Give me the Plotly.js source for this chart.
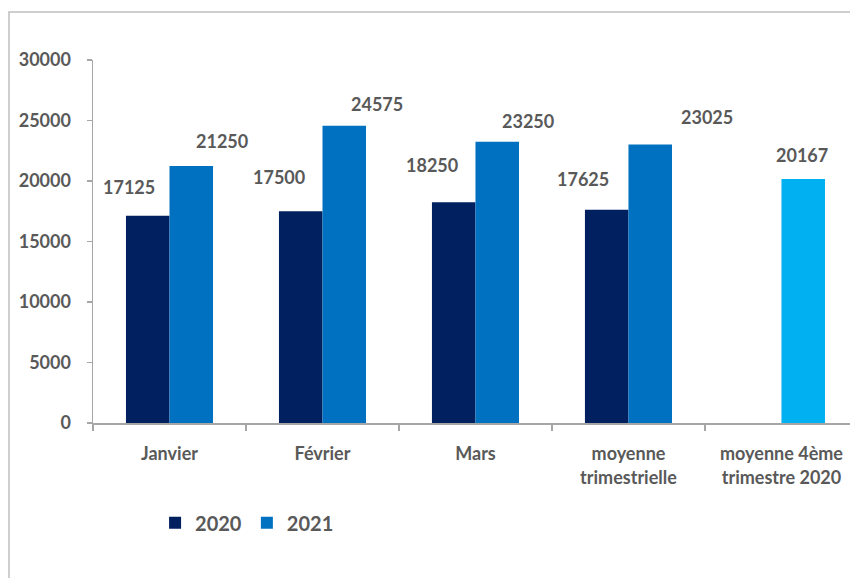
<!DOCTYPE html>
<html>
<head>
<meta charset="utf-8">
<script src="https://cdn.plot.ly/plotly-3.0.1.min.js"></script>
<style>html,body{margin:0;padding:0;background:#fff;}#chart{width:850px;height:578px;}</style>
</head>
<body>
<div id="chart"></div>
<script>
var categories = ['Janvier', 'Février', 'Mars', 'moyenne<br>trimestrielle', 'moyenne 4ème<br>trimestre 2020'];
var values2020 = [17125, 17500, 18250, 17625, null];
var values2021 = [21250, 24575, 23250, 23025, 20167];
var seriesNames = ['2020', '2021'];
var yTicks = [0, 5000, 10000, 15000, 20000, 25000, 30000];

// label placement styles (pixel shifts)
var shifts2020 = [[-41, 29], [-43, 34], [-43, 37], [-45, 31], [0, 0]];
var shifts2021 = [[52, 25], [55, 22], [53, 21], [79, 27], [21, 24]];

var textColor = '#595959';
var font = {family: 'Lato, "Open Sans", sans-serif', size: 18, color: textColor, weight: 700};

var colors2021 = values2021.map(function (v, i) { return i === values2021.length - 1 ? '#00B0F0' : '#0070C0'; });

var traces = [
  {type: 'bar', name: seriesNames[0], x: categories, y: values2020,
   marker: {color: '#002060'}, hoverinfo: 'none'},
  {type: 'bar', name: seriesNames[1], x: categories, y: values2021,
   marker: {color: colors2021}, hoverinfo: 'none'}
];

var annotations = [];
function addLabels(vals, shifts) {
  vals.forEach(function (v, i) {
    if (v === null) return;
    annotations.push({x: categories[i], y: v, xref: 'x', yref: 'y', text: String(v),
      showarrow: false, xanchor: 'center', yanchor: 'middle',
      xshift: shifts[i][0], yshift: shifts[i][1], font: font});
  });
}
addLabels(values2020, shifts2020);
addLabels(values2021, shifts2021);

var layout = {
  width: 850, height: 578,
  margin: {l: 93, r: 0, t: 60, b: 155},
  paper_bgcolor: '#ffffff', plot_bgcolor: '#ffffff',
  barmode: 'group', bargap: 0.431, bargroupgap: 0,
  showlegend: true,
  legend: {orientation: 'h', x: 0.082, y: -0.275, xanchor: 'left', yanchor: 'middle',
    font: {family: font.family, size: 20, color: textColor, weight: 700}},
  xaxis: {type: 'category', range: [-0.5, 4.448], showgrid: false, zeroline: false,
    showline: true, linecolor: '#A6A6A6', linewidth: 1.5,
    ticks: 'outside', tickson: 'boundaries', ticklen: 6, tickcolor: '#A6A6A6', tickwidth: 1.5,
    ticklabelstandoff: 14, tickfont: font, fixedrange: true},
  yaxis: {range: [0, 30000], tickvals: yTicks, ticktext: yTicks.map(String), showgrid: false, zeroline: false,
    showline: true, linecolor: '#A6A6A6', linewidth: 1.5,
    ticks: 'outside', ticklen: 5, tickcolor: '#A6A6A6', tickwidth: 1.5,
    ticklabelstandoff: 12, tickfont: font, fixedrange: true},
  annotations: annotations,
  shapes: [{type: 'rect', xref: 'paper', yref: 'paper', x0: -0.111, x1: 1.2, y0: -0.6, y1: 1.132,
    line: {color: '#BFBFBF', width: 1.5}, fillcolor: 'rgba(0,0,0,0)', layer: 'below'}]
};

Plotly.newPlot('chart', traces, layout, {displayModeBar: false, staticPlot: true});
</script>
</body>
</html>
